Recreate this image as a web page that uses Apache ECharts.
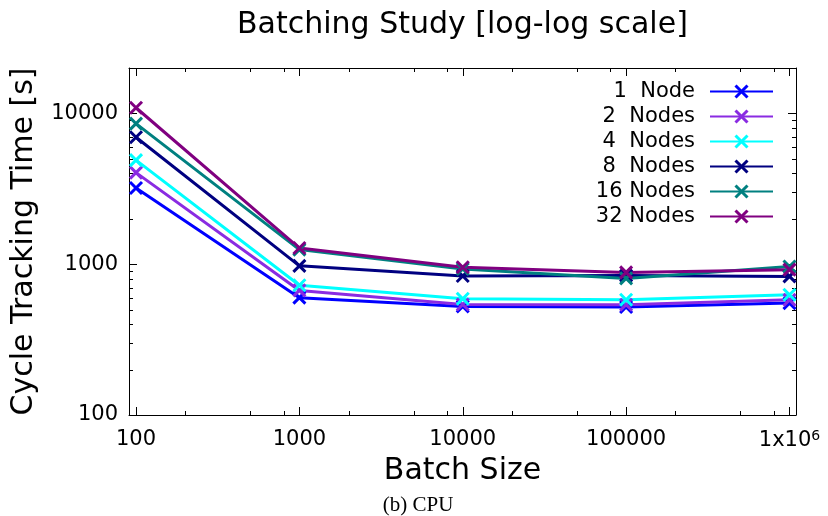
<!DOCTYPE html>
<html>
<head>
<meta charset="utf-8">
<script src="https://cdn.jsdelivr.net/npm/echarts@6/dist/echarts.min.js"></script>
<style>html,body{margin:0;padding:0;background:#fff}#c{width:828px;height:516px}</style>
</head>
<body>
<div id="c"></div>
<script>
// ---- data ----
const batchSizes = [100, 1000, 10000, 100000, 1000000];
const seriesNames = ['1  Node', '2  Nodes', '4  Nodes', '8  Nodes', '16 Nodes', '32 Nodes'];
const node1  = [3200, 600, 525, 520, 552];
const node2  = [4050, 670, 540, 538, 580];
const node4  = [4900, 725, 590, 581, 627];
const node8  = [6950, 975, 835, 840, 830];
const node16 = [8550, 1250, 930, 805, 965];
const node32 = [10900, 1280, 955, 882, 920];
const seriesColors = ['#0000ff', '#8a2be2', '#00ffff', '#000080', '#008080', '#800080'];
const xMinorMult = [2, 5, 8];
const yMinorMult = [2, 3, 4, 5, 6, 7, 8, 9];

const allSeries = [node1, node2, node4, node8, node16, node32];
const FONT = 'DejaVu Sans';
const X_MARK = 'path://M0,0L10,10M10,0L0,10';

const chart = echarts.init(document.getElementById('c'), null, {renderer: 'canvas'});

function isPow10(v) {
  const l = Math.log10(v);
  return Math.abs(l - Math.round(l)) < 1e-6;
}

const gridPos = {left: 129, right: 32, top: 68, bottom: 101};
const X_MIN = 90.6, X_MAX = 1.096e6, Y_MIN = 100, Y_MAX = 20000;

const option = {
  animation: false,
  backgroundColor: '#fff',
  textStyle: {fontFamily: FONT},
  title: {
    text: 'Batching Study [log-log scale]',
    left: 237,
    top: 10,
    padding: 0,
    textStyle: {fontFamily: FONT, fontSize: 30, fontWeight: 'normal', color: '#000'}
  },
  grid: Object.assign({show: false}, gridPos),
  legend: {
    orient: 'vertical',
    right: 54,
    top: 81,
    padding: 0,
    align: 'right',
    itemWidth: 63,
    itemHeight: 15,
    itemGap: 4,
    selectedMode: false,
    textStyle: {fontFamily: FONT, fontSize: 21, color: '#000', lineHeight: 15, padding: [0, 10, 0, 0]},
    itemStyle: {borderWidth: 3},
    data: seriesNames
  },
  xAxis: [{
    type: 'log', logBase: 10, min: X_MIN, max: X_MAX,
    name: 'Batch Size', nameLocation: 'middle', nameGap: 40,
    nameTextStyle: {fontFamily: FONT, fontSize: 30, color: '#000'},
    axisLine: {show: true, lineStyle: {color: '#000', width: 1}},
    axisTick: {show: true, inside: true, length: 8, lineStyle: {color: '#000'}},
    splitLine: {show: false},
    axisLabel: {
      fontFamily: FONT, fontSize: 21, color: '#000', margin: 14,
      formatter: function (v) {
        if (!isPow10(v)) return '';
        const p = Math.round(Math.log10(v));
        if (p >= 6) return '1x10{sup|' + p + '}';
        return String(Math.round(v));
      },
      rich: {sup: {fontFamily: FONT, fontSize: 14, color: '#000', verticalAlign: 'top', padding: [0, 0, 10, 0]}}
    }
  }, {
    type: 'log', logBase: 10, min: X_MIN, max: X_MAX, position: 'top',
    axisLine: {show: true, lineStyle: {color: '#000', width: 1}},
    axisTick: {show: true, inside: true, length: 8, lineStyle: {color: '#000'}},
    axisLabel: {show: false}, splitLine: {show: false}
  }],
  yAxis: [{
    type: 'log', logBase: 10, min: Y_MIN, max: Y_MAX,
    name: 'Cycle Tracking Time [s]', nameLocation: 'middle', nameGap: 90,
    nameTextStyle: {fontFamily: FONT, fontSize: 30, color: '#000'},
    axisLine: {show: true, lineStyle: {color: '#000', width: 1}},
    axisTick: {show: true, inside: true, length: 8, lineStyle: {color: '#000'}},
    splitLine: {show: false},
    axisLabel: {
      fontFamily: FONT, fontSize: 21, color: '#000', margin: 11,
      formatter: function (v) { return isPow10(v) ? String(Math.round(v)) : ''; }
    }
  }, {
    type: 'log', logBase: 10, min: Y_MIN, max: Y_MAX, position: 'right',
    axisLine: {show: true, lineStyle: {color: '#000', width: 1}},
    axisTick: {show: true, inside: true, length: 8, lineStyle: {color: '#000'}},
    axisLabel: {show: false}, splitLine: {show: false}
  }],
  series: allSeries.map(function (vals, i) {
    return {
      name: seriesNames[i],
      type: 'line',
      xAxisIndex: 0, yAxisIndex: 0,
      data: batchSizes.map(function (b, j) { return [b, vals[j]]; }),
      symbol: X_MARK,
      symbolSize: 12,
      showSymbol: true,
      silent: true,
      lineStyle: {color: seriesColors[i], width: 3},
      itemStyle: {color: seriesColors[i], borderColor: seriesColors[i], borderWidth: 3},
      emphasis: {disabled: true}
    };
  })
};

chart.setOption(option);

// minor ticks (drawn via the axes' own scales) + caption
const g = [];
const gTop = gridPos.top, gBottom = 516 - gridPos.bottom, gLeft = gridPos.left, gRight = 828 - gridPos.right;
for (let p = 1; p <= 6; p++) {
  xMinorMult.forEach(function (m) {
    const v = m * Math.pow(10, p);
    if (v <= X_MIN || v >= X_MAX) return;
    const x = Math.round(chart.convertToPixel({xAxisIndex: 0}, v)) + 0.5;
    g.push({type: 'line', silent: true, shape: {x1: x, y1: gBottom, x2: x, y2: gBottom - 4}, style: {stroke: '#000', lineWidth: 1}});
    g.push({type: 'line', silent: true, shape: {x1: x, y1: gTop, x2: x, y2: gTop + 4}, style: {stroke: '#000', lineWidth: 1}});
  });
}
for (let p = 2; p <= 4; p++) {
  yMinorMult.forEach(function (m) {
    const v = m * Math.pow(10, p);
    if (v <= Y_MIN || v >= Y_MAX) return;
    const y = Math.round(chart.convertToPixel({yAxisIndex: 0}, v)) + 0.5;
    g.push({type: 'line', silent: true, shape: {x1: gLeft, y1: y, x2: gLeft + 4, y2: y}, style: {stroke: '#000', lineWidth: 1}});
    g.push({type: 'line', silent: true, shape: {x1: gRight, y1: y, x2: gRight - 4, y2: y}, style: {stroke: '#000', lineWidth: 1}});
  });
}
g.push({
  type: 'text', silent: true, x: 418, y: 505,
  style: {text: '(b) CPU', fontFamily: 'Liberation Serif', fontSize: 21, fill: '#000', textAlign: 'center', textVerticalAlign: 'middle'}
});
chart.setOption({graphic: g});
</script>
</body>
</html>
